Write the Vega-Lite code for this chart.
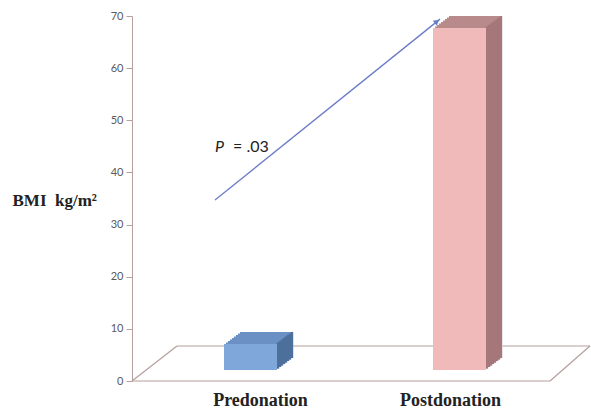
{
  "$schema": "https://vega.github.io/schema/vega-lite/v6.json",
  "width": 418,
  "height": 365,
  "autosize": {"type": "none"},
  "padding": {"left": 132, "top": 16, "right": 41, "bottom": 31},
  "background": "white",
  "config": {"view": {"stroke": null}},
  "data": {"values": [{"phase": "Predonation", "bmi": 5}, {"phase": "Postdonation", "bmi": 65.6}]},
  "layer": [
    {
      "encoding": {
        "x": {"field": "phase", "type": "nominal", "sort": null, "scale": {"paddingInner": 0, "paddingOuter": 0},
          "axis": {"title": null, "domain": false, "ticks": false, "labelAngle": 0, "labelFont": "Liberation Serif", "labelFontSize": 18, "labelFontWeight": "bold", "labelColor": "#222222", "labelPadding": 10,
            "labelOffset": {"condition": {"test": "datum.value === 'Predonation'", "value": 24}, "value": 5}}},
        "y": {"field": "bmi", "type": "quantitative", "scale": {"domain": [0, 70], "nice": false},
          "axis": {"values": [0, 10, 20, 30, 40, 50, 60, 70], "grid": false, "domainColor": "#b4a09c", "tickColor": "#b4a09c", "tickSize": 6, "labelPadding": 3, "labelFont": "Lato", "labelFontSize": 11, "labelColor": "#5a5a5a",
            "title": "BMI\u00a0 kg/m²", "titleAngle": 0, "titleFont": "Liberation Serif", "titleFontSize": 17, "titleFontWeight": "bold", "titleColor": "#222222", "titleX": -120, "titleY": 184, "titleAlign": "left", "titleBaseline": "middle"}}
      },
      "layer": [
        {"mark": {"type": "bar", "width": 53, "xOffset": 30, "yOffset": -23, "y2Offset": -23}, "encoding": {"color": {"condition": {"test": "datum.phase === 'Predonation'", "value": "#6a90c4"}, "value": "#b98a8a"}}},
        {"mark": {"type": "bar", "width": 53, "xOffset": 28, "yOffset": -21.5, "y2Offset": -21.5}, "encoding": {"color": {"condition": {"test": "datum.phase === 'Predonation'", "value": "#6a90c4"}, "value": "#b98a8a"}}},
        {"mark": {"type": "bar", "width": 53, "xOffset": 26, "yOffset": -20, "y2Offset": -20}, "encoding": {"color": {"condition": {"test": "datum.phase === 'Predonation'", "value": "#6a90c4"}, "value": "#b98a8a"}}},
        {"mark": {"type": "bar", "width": 53, "xOffset": 24, "yOffset": -18.5, "y2Offset": -18.5}, "encoding": {"color": {"condition": {"test": "datum.phase === 'Predonation'", "value": "#6a90c4"}, "value": "#b98a8a"}}},
        {"mark": {"type": "bar", "width": 53, "xOffset": 22, "yOffset": -17, "y2Offset": -17}, "encoding": {"color": {"condition": {"test": "datum.phase === 'Predonation'", "value": "#6a90c4"}, "value": "#b98a8a"}}},
        {"mark": {"type": "bar", "width": 53, "xOffset": 20, "yOffset": -15.5, "y2Offset": -15.5}, "encoding": {"color": {"condition": {"test": "datum.phase === 'Predonation'", "value": "#6a90c4"}, "value": "#b98a8a"}}},
        {"mark": {"type": "bar", "width": 53, "xOffset": 18, "yOffset": -14, "y2Offset": -14}, "encoding": {"color": {"condition": {"test": "datum.phase === 'Predonation'", "value": "#6a90c4"}, "value": "#b98a8a"}}},
        {"mark": {"type": "bar", "width": 53, "xOffset": 16, "yOffset": -12.5, "y2Offset": -12.5}, "encoding": {"color": {"condition": {"test": "datum.phase === 'Predonation'", "value": "#6a90c4"}, "value": "#b98a8a"}}},
        {"mark": {"type": "bar", "width": 2.4, "xOffset": 55.5, "yOffset": -23, "y2Offset": -23}, "encoding": {"color": {"condition": {"test": "datum.phase === 'Predonation'", "value": "#4d6f9c"}, "value": "#a5777b"}}},
        {"mark": {"type": "bar", "width": 2.4, "xOffset": 53.5, "yOffset": -21.5, "y2Offset": -21.5}, "encoding": {"color": {"condition": {"test": "datum.phase === 'Predonation'", "value": "#4d6f9c"}, "value": "#a5777b"}}},
        {"mark": {"type": "bar", "width": 2.4, "xOffset": 51.5, "yOffset": -20, "y2Offset": -20}, "encoding": {"color": {"condition": {"test": "datum.phase === 'Predonation'", "value": "#4d6f9c"}, "value": "#a5777b"}}},
        {"mark": {"type": "bar", "width": 2.4, "xOffset": 49.5, "yOffset": -18.5, "y2Offset": -18.5}, "encoding": {"color": {"condition": {"test": "datum.phase === 'Predonation'", "value": "#4d6f9c"}, "value": "#a5777b"}}},
        {"mark": {"type": "bar", "width": 2.4, "xOffset": 47.5, "yOffset": -17, "y2Offset": -17}, "encoding": {"color": {"condition": {"test": "datum.phase === 'Predonation'", "value": "#4d6f9c"}, "value": "#a5777b"}}},
        {"mark": {"type": "bar", "width": 2.4, "xOffset": 45.5, "yOffset": -15.5, "y2Offset": -15.5}, "encoding": {"color": {"condition": {"test": "datum.phase === 'Predonation'", "value": "#4d6f9c"}, "value": "#a5777b"}}},
        {"mark": {"type": "bar", "width": 2.4, "xOffset": 43.5, "yOffset": -14, "y2Offset": -14}, "encoding": {"color": {"condition": {"test": "datum.phase === 'Predonation'", "value": "#4d6f9c"}, "value": "#a5777b"}}},
        {"mark": {"type": "bar", "width": 2.4, "xOffset": 41.5, "yOffset": -12.5, "y2Offset": -12.5}, "encoding": {"color": {"condition": {"test": "datum.phase === 'Predonation'", "value": "#4d6f9c"}, "value": "#a5777b"}}},
        {"mark": {"type": "bar", "width": 53, "xOffset": 14, "yOffset": -11, "y2Offset": -11}, "encoding": {"color": {"condition": {"test": "datum.phase === 'Predonation'", "value": "#7fa7d9"}, "value": "#f0baba"}}}
      ]
    },
    {"transform": [{"filter": "datum.phase === 'Predonation'"}], "mark": {"type": "rule", "color": "#b4a09c", "strokeWidth": 1.2, "xOffset": -59.5, "x2Offset": -12.5},
     "encoding": {"x": {"datum": "Predonation", "type": "nominal"}, "x2": {"datum": "Predonation"}, "y": {"datum": 6.71, "type": "quantitative"}}},
    {"transform": [{"filter": "datum.phase === 'Predonation'"}], "mark": {"type": "rule", "color": "#b4a09c", "strokeWidth": 1.2, "xOffset": 56.5, "x2Offset": -12.5},
     "encoding": {"x": {"datum": "Predonation", "type": "nominal"}, "x2": {"datum": "Postdonation"}, "y": {"datum": 6.71, "type": "quantitative"}}},
    {"transform": [{"filter": "datum.phase === 'Predonation'"}], "mark": {"type": "rule", "color": "#b4a09c", "strokeWidth": 1.2, "xOffset": 57, "x2Offset": 144.5},
     "encoding": {"x": {"datum": "Postdonation", "type": "nominal"}, "x2": {"datum": "Postdonation"}, "y": {"datum": 6.71, "type": "quantitative"}}},
    {"transform": [{"filter": "datum.phase === 'Predonation'"}], "mark": {"type": "rule", "color": "#b4a09c", "strokeWidth": 1.2, "xOffset": -104.5, "x2Offset": 104.5},
     "encoding": {"x": {"datum": "Predonation", "type": "nominal"}, "x2": {"datum": "Postdonation"}, "y": {"datum": 0, "type": "quantitative"}}},
    {"transform": [{"filter": "datum.phase === 'Predonation'"}], "mark": {"type": "rule", "color": "#b4a09c", "strokeWidth": 1.2, "xOffset": -104.5, "x2Offset": -59.5},
     "encoding": {"x": {"datum": "Predonation", "type": "nominal"}, "x2": {"datum": "Predonation"}, "y": {"datum": 0, "type": "quantitative"}, "y2": {"datum": 6.71}}},
    {"transform": [{"filter": "datum.phase === 'Predonation'"}], "mark": {"type": "rule", "color": "#b4a09c", "strokeWidth": 1.2, "xOffset": 104.5, "x2Offset": 144.5},
     "encoding": {"x": {"datum": "Postdonation", "type": "nominal"}, "x2": {"datum": "Postdonation"}, "y": {"datum": 0, "type": "quantitative"}, "y2": {"datum": 6.71}}},
    {"transform": [{"filter": "datum.phase === 'Predonation'"}], "mark": {"type": "rule", "color": "#6b7cc6", "strokeWidth": 1.3, "xOffset": -21.5, "x2Offset": -5.5},
     "encoding": {"x": {"datum": "Predonation", "type": "nominal"}, "x2": {"datum": "Postdonation"}, "y": {"datum": 34.7, "type": "quantitative"}, "y2": {"datum": 69.4}}},
    {"transform": [{"filter": "datum.phase === 'Predonation'"}], "mark": {"type": "point", "shape": "triangle-up", "filled": true, "opacity": 1, "color": "#6b7cc6", "size": 40, "angle": 51, "xOffset": -8.6},
     "encoding": {"x": {"datum": "Postdonation", "type": "nominal"}, "y": {"datum": 68.94, "type": "quantitative"}}},
    {"transform": [{"filter": "datum.phase === 'Predonation'"}], "mark": {"type": "text", "text": "P", "font": "Lato", "fontSize": 16, "fontStyle": "italic", "color": "#222222", "align": "left", "baseline": "alphabetic", "xOffset": -21.5},
     "encoding": {"x": {"datum": "Predonation", "type": "nominal"}, "y": {"datum": 43.9, "type": "quantitative"}}},
    {"transform": [{"filter": "datum.phase === 'Predonation'"}], "mark": {"type": "text", "text": "= .03", "font": "Lato", "fontSize": 16, "color": "#222222", "align": "left", "baseline": "alphabetic", "xOffset": -3.5},
     "encoding": {"x": {"datum": "Predonation", "type": "nominal"}, "y": {"datum": 43.9, "type": "quantitative"}}}
  ]
}
